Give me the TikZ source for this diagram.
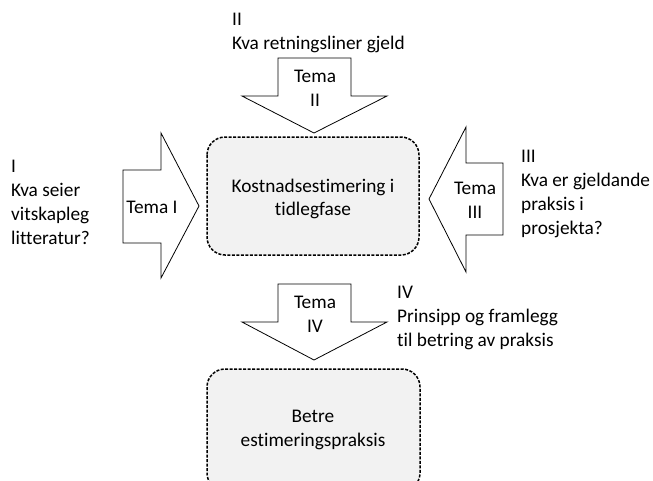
\documentclass[tikz,border=0pt]{standalone}
\usepackage{fontspec}
\setmainfont{Carlito}[Ligatures=NoCommon]
\begin{document}
\begin{tikzpicture}[x=1pt,y=-1pt,
  every node/.style={font=\fontsize{19.3}{23.8}\selectfont, inner sep=0pt},
  phasebox/.style={draw=black, line width=1.5pt, dash pattern=on 3pt off 1.5pt,
    fill=black!5, rounded corners=18pt},
  blockarrow/.style={draw=black, line width=0.8pt, fill=white, line join=miter},
  label/.style={align=left, anchor=base west},
  tema/.style={align=center}]
  \useasboundingbox (0,0) rectangle (653,480);

  % phase boxes
  \draw[phasebox] (207,137) rectangle (419,255);
  \node[align=center] (fase) at (313,199) {Kostnadsestimering i\\tidlegfase};
  \draw[phasebox] (207,369) rectangle (420,491);
  \node[align=center] (betre) at (313,430) {Betre\\estimeringspraksis};

  % theme arrows
  \draw[blockarrow] (123,170) -- (161,170) -- (161,133) -- (199,206) -- (161,278) -- (161,243) -- (123,243) -- cycle;
  \node[tema] (temaI) at (152,207) {Tema I};

  \draw[blockarrow] (278,58) -- (351,58) -- (351,96) -- (387,96) -- (314,133) -- (242,96) -- (278,96) -- cycle;
  \node[tema] (temaII) at (315,88) {Tema\\II};

  \draw[blockarrow] (503,163) -- (466,163) -- (466,127) -- (429,199) -- (466,272) -- (466,235) -- (503,235) -- cycle;
  \node[tema] (temaIII) at (475,200) {Tema\\III};

  \draw[blockarrow] (278,284) -- (351,284) -- (351,322) -- (387,322) -- (314,360) -- (242,322) -- (278,322) -- cycle;
  \node[tema] (temaIV) at (315,314) {Tema\\IV};

  % theme descriptions (anchored at the baseline of the last line)
  \node[label] (descI) at (11,244) {I\\Kva seier\\vitskapleg\\litteratur?};
  \node[label] (descII) at (232,49) {II\\Kva retningsliner gjeld};
  \node[label] (descIII) at (521,234) {III\\Kva er gjeldande\\praksis i\\prosjekta?};
  \node[label] (descIV) at (397,346) {IV\\Prinsipp og framlegg\\til betring av praksis};
\end{tikzpicture}
\end{document}
